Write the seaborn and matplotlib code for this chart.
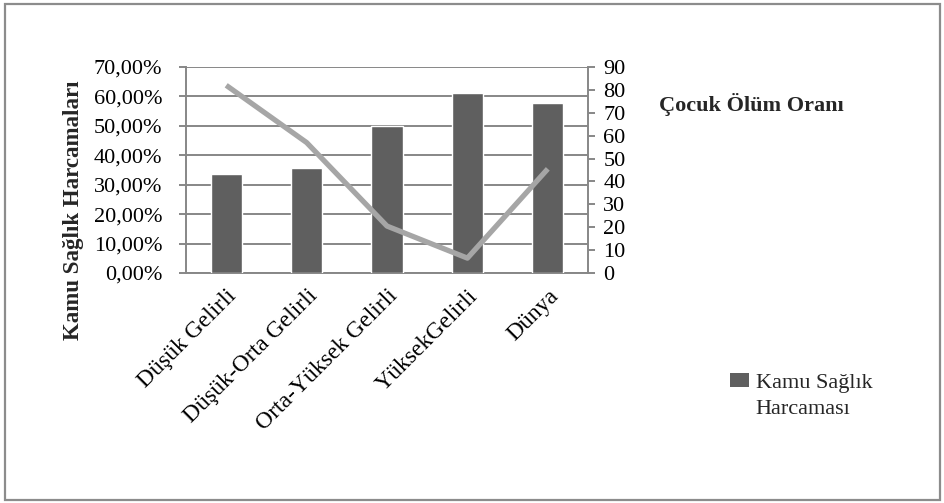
import matplotlib
matplotlib.use("Agg")
import matplotlib.pyplot as plt
import matplotlib.patches as mpatches
from matplotlib.ticker import FuncFormatter, MultipleLocator
import seaborn as sns
import pandas as pd

# Gelir gruplarına göre kamu sağlık harcaması (%) ve çocuk ölüm oranı
categories = ["Düşük Gelirli", "Düşük-Orta Gelirli", "Orta-Yüksek Gelirli",
              "YüksekGelirli", "Dünya"]
health_spending = [33.6, 35.7, 50.0, 61.0, 57.8]
child_mortality = [82.0, 57.0, 20.5, 6.5, 45.5]

df = pd.DataFrame({"grup": categories,
                   "harcama": health_spending,
                   "olum": child_mortality})

sns.set_theme(style="white")
plt.rcParams["font.family"] = ["Liberation Serif", "DejaVu Serif"]

W, H = 944, 503
fig = plt.figure(figsize=(W / 100, H / 100), dpi=100)

# chart area border
fig.patches.append(mpatches.Rectangle((5 / W, 3 / H), 935 / W, 496 / H,
                                      transform=fig.transFigure, fill=False,
                                      edgecolor="#8c8c8c", linewidth=1.6))

left, right, top, bottom = 186, 588, 67, 273
ax = fig.add_axes([left / W, 1 - bottom / H, (right - left) / W, (bottom - top) / H])

grid_col = "#878787"
bar_col = "#5f5f5f"
line_col = "#a6a6a6"

sns.barplot(data=df, x="grup", y="harcama", color=bar_col, width=0.39,
            saturation=1, ax=ax, zorder=3)
ax.set_xlim(-0.5, len(categories) - 0.5)
ax.set_ylim(0, 70)
ax.yaxis.set_major_locator(MultipleLocator(10))
ax.yaxis.set_major_formatter(FuncFormatter(lambda v, p: f"{v:.2f}%".replace(".", ",")))
ax.grid(axis="y", color=grid_col, linewidth=1.4, zorder=0)
ax.set_axisbelow(True)
ax.set_xlabel("")
ax.set_ylabel("")

ax2 = ax.twinx()
sns.pointplot(data=df, x="grup", y="olum", color=line_col, markers="",
              linestyles="-", ax=ax2, zorder=4)
for ln in ax2.lines:
    ln.set_linewidth(3.8)
    ln.set_solid_capstyle("butt")
ax2.set_xlim(-0.5, len(categories) - 0.5)
ax2.set_ylim(0, 90)
ax2.yaxis.set_major_locator(MultipleLocator(10))
ax2.set_ylabel("")
ax2.set_xlabel("")

for a in (ax, ax2):
    for s in a.spines.values():
        s.set_visible(False)
ax.spines["left"].set_visible(True)
ax.spines["bottom"].set_visible(True)
ax2.spines["right"].set_visible(True)
for s in (ax.spines["left"], ax.spines["bottom"], ax2.spines["right"]):
    s.set_color(grid_col)
    s.set_linewidth(1.4)

ax.tick_params(axis="y", which="major", left=True, length=5, width=1.4,
               color=grid_col, labelsize=16, pad=12, labelcolor="black")
ax.tick_params(axis="x", bottom=False, labelsize=17, pad=3, labelcolor="black")
ax2.tick_params(axis="y", right=True, length=5, width=1.4, color=grid_col,
                labelsize=16, pad=6, labelcolor="black")
plt.setp(ax.get_xticklabels(), rotation=45, ha="right", rotation_mode="anchor")

fig.text(73 / W, 1 - 210 / H, "Kamu Sağlık Harcamaları", rotation=90,
         ha="center", va="center", fontsize=16.5, fontweight="bold")
fig.text(659 / W, 1 - 104 / H, "Çocuk Ölüm Oranı", ha="left", va="center",
         fontsize=16, fontweight="bold")

# series key: swatch with the first line of the name, second line below it
leg_handle = mpatches.Patch(facecolor=bar_col, edgecolor="none")
fig.legend(handles=[leg_handle], labels=["Kamu Sağlık"],
           loc="center left", bbox_to_anchor=(730 / W, 1 - 383 / H),
           frameon=False, fontsize=16, handlelength=0.85, handleheight=0.6,
           handletextpad=0.3, borderpad=0, borderaxespad=0)
fig.text(755 / W, 1 - 410 / H, "Harcaması", ha="left", va="center", fontsize=16)

fig.savefig("out.png", dpi=100)
